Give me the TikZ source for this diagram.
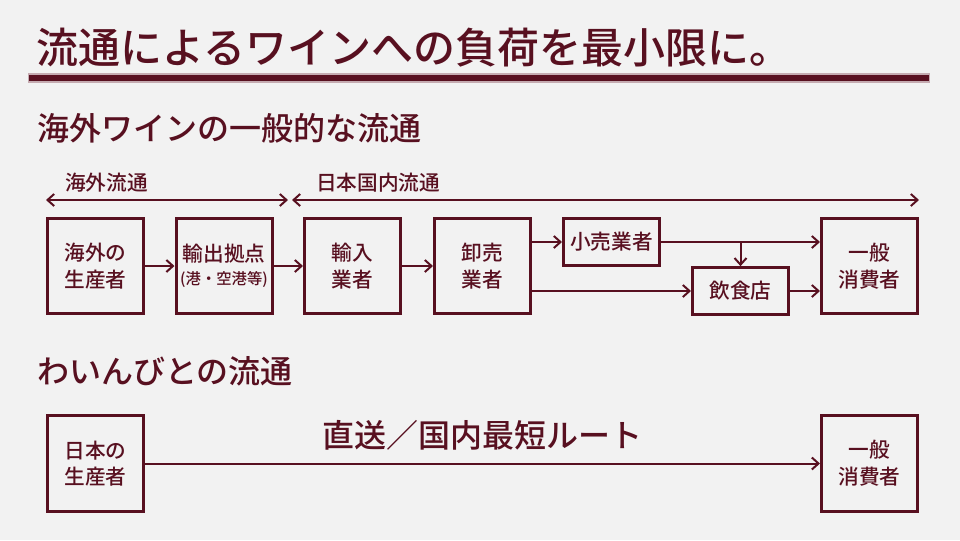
\documentclass[tikz,border=0pt]{standalone}
\usepackage{fontspec}
\setmainfont{Noto Sans CJK JP Medium}
\usepackage{xcolor}
\usepackage{tikz}
\usetikzlibrary{positioning,arrows.meta,calc}

\definecolor{wine}{RGB}{88,16,32}
\definecolor{paper}{RGB}{242,242,242}

\begin{document}
\begin{tikzpicture}[x=0.75pt,y=-0.75pt,
    box/.style={draw=wine, line width=2.25pt, minimum width=72pt, minimum height=71.5pt,
        inner sep=0pt, align=center, font=\fontsize{15.5}{20}\selectfont, text=wine},
    smallbox/.style={box, minimum height=35pt},
    flow/.style={draw=wine, line width=1.5pt, -{Straight Barb[length=5pt,width=9pt]}},
    span/.style={draw=wine, line width=1.5pt, {Straight Barb[length=5pt,width=9pt]}-{Straight Barb[length=5pt,width=9pt]}},
    heading/.style={anchor=west, text=wine, inner sep=0pt, font=\fontsize{24}{28}\selectfont}]

    % Background
    \fill[paper] (0,0) rectangle (960,540);
    \useasboundingbox (0,0) rectangle (960,540);

    % Title and rule
    \node[heading, font=\fontsize{31.5}{36}\selectfont] (title) at (36,48) {流通によるワインへの負荷を最小限に。};
    \draw[wine!35, line width=7pt] (28,78) -- (930,78);
    \draw[wine, line width=4.5pt] (29,78) -- (929,78);

    % Overseas wine distribution
    \node[heading] (head1) at (37,128) {海外ワインの一般的な流通};

    \node[box] (seisan) at (95.5,266) {海外の\\生産者};
    \node[box] (kyoten) at (224,266) {輸出拠点\\[-3pt]{\fontsize{11.5}{13}\selectfont (港・空港等)}};
    \node[box] (yunyu) at (352.5,266) {輸入\\業者};
    \node[box] (oroshi) at (482.5,266) {卸売\\業者};
    \node[smallbox] (kouri) at (611.5,242) {小売業者};
    \node[smallbox] (inshoku) at (740.5,291) {飲食店};
    \node[box] (ippan) at (869.5,266) {一般\\消費者};

    \draw[flow] (seisan) -- (kyoten);
    \draw[flow] (kyoten) -- (yunyu);
    \draw[flow] (yunyu) -- (oroshi);
    \draw[flow] (oroshi.east |- kouri.west) -- (kouri.west);
    \draw[flow] (oroshi.east |- inshoku.west) -- (inshoku.west);
    \draw[flow] (kouri.east) -- (kouri.east -| ippan.west);
    \draw[flow] (inshoku.north |- kouri.east) -- (inshoku.north);
    \draw[flow] (inshoku.east) -- (inshoku.east -| ippan.west);

    % Spans
    \coordinate (kaigaiL) at (46,200);
    \coordinate (kaigaiR) at (288,200);
    \coordinate (kokunaiL) at (292,200);
    \coordinate (kokunaiR) at (919,200);
    \draw[span] (kaigaiL) -- (kaigaiR);
    \draw[span] (kokunaiL) -- (kokunaiR);
    \node[anchor=west, text=wine, inner sep=0pt, font=\fontsize{15.5}{18}\selectfont] (kaigai) at (65,183) {海外流通};
    \node[anchor=west, text=wine, inner sep=0pt, font=\fontsize{15.5}{18}\selectfont] (kokunai) at (316,183) {日本国内流通};

    % Wainbito distribution
    \node[heading] (head2) at (37,371) {わいんびとの流通};

    \node[box] (nihon) at (95.5,463.5) {日本の\\生産者};
    \node[box] (ippan2) at (869.5,463.5) {一般\\消費者};
    \draw[flow] (nihon) -- node[above=6pt, text=wine, font=\fontsize{24}{28}\selectfont] (route) {直送／国内最短ルート} (ippan2);
\end{tikzpicture}
\end{document}
